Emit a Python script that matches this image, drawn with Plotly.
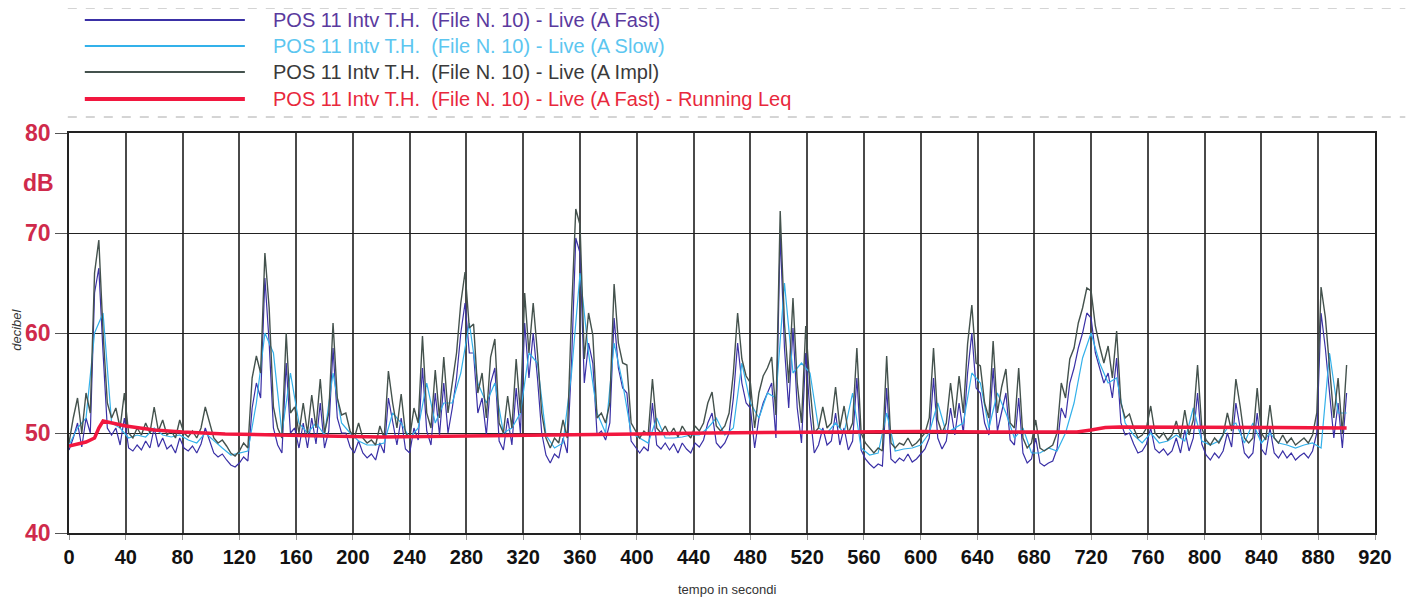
import plotly.graph_objects as go

# ---------------- data ----------------
t_fast = list(range(0, 901, 3))
t_impl = list(range(0, 901, 3))
t_slow = list(range(0, 901, 6))

impl_db = [
    49.0, 51.5, 53.5, 50.0, 54.0, 52.0, 66.0, 69.3, 60.0, 53.0,
    51.5, 52.5, 50.5, 54.0, 50.0, 49.5, 50.5, 49.8, 51.0, 50.0,
    52.6, 50.2, 51.3, 49.8, 50.2, 49.5, 51.3, 50.0, 49.6, 50.2,
    49.5, 50.5, 52.6, 51.0, 49.5, 49.0, 49.3, 48.7, 48.0, 47.7,
    48.2, 49.0, 48.5, 55.5, 57.7, 56.0, 68.0, 62.5, 52.6, 50.5,
    49.5, 60.0, 52.0, 52.6, 50.0, 53.0, 50.0, 53.8, 50.5, 55.4,
    50.0, 52.0, 61.0, 53.5, 51.8, 52.0, 50.2, 49.5, 51.0, 49.5,
    49.0, 49.3, 48.8, 50.7, 49.5, 56.2, 53.0, 50.5, 53.9, 50.0,
    49.5, 52.5, 51.0, 59.7, 52.0, 50.5, 56.3, 51.5, 57.6, 52.0,
    55.0, 58.0, 63.0, 66.1, 60.5, 60.9, 54.0, 56.0, 51.5, 57.6,
    59.4, 51.0, 50.0, 53.7, 50.5, 57.4, 52.0, 64.0, 58.0, 63.0,
    58.0, 52.0, 49.5, 48.5, 49.5, 49.0, 51.3, 49.5, 62.0, 72.4,
    70.8, 57.4, 62.0, 59.8, 51.5, 52.0, 51.0, 53.0, 64.9, 59.0,
    57.0, 56.8, 51.0, 50.2, 49.5, 50.2, 49.8, 55.4, 50.5, 50.0,
    50.7, 49.8, 50.5, 49.6, 50.7, 50.0, 49.5, 50.7, 50.2, 51.0,
    53.0, 54.1, 50.7, 50.2, 50.7, 52.0, 56.0, 62.0, 57.4, 55.7,
    55.0, 50.5, 54.0, 55.7, 56.5, 57.6, 51.8, 72.2, 61.0, 55.0,
    63.5, 55.0, 51.0, 60.7, 54.6, 50.0, 50.5, 52.6, 50.5, 51.0,
    54.6, 50.5, 52.7, 50.0, 51.0, 58.5, 50.0, 49.0, 48.5, 48.0,
    48.5, 48.2, 57.7, 49.0, 48.5, 49.0, 48.8, 49.5, 48.7, 49.0,
    49.5, 50.0, 51.5, 58.5, 51.3, 50.0, 51.0, 55.0, 51.5, 55.7,
    52.0, 58.9, 62.8, 57.0, 56.7, 53.0, 51.5, 59.2, 52.0, 54.6,
    56.4, 51.0, 50.5, 56.5, 49.5, 48.5, 49.0, 51.3, 48.5, 48.2,
    48.5, 48.8, 50.0, 55.0, 53.5, 57.4, 58.5, 61.0, 62.5, 64.5,
    64.2, 60.7, 58.7, 57.0, 58.7, 55.5, 60.2, 53.0, 51.5, 51.9,
    50.5, 49.5, 49.8, 50.5, 52.7, 50.0, 49.5, 50.0, 49.3, 49.8,
    51.2, 49.5, 52.3, 49.8, 51.3, 56.8, 50.5, 49.3, 48.8, 49.5,
    49.0, 49.8, 52.0, 50.2, 55.4, 52.7, 49.5, 49.0, 49.5, 54.5,
    50.0, 49.3, 52.8, 49.5, 49.0, 49.8, 49.0, 49.5, 48.8, 49.2,
    49.5, 49.0, 49.8, 52.0, 64.6, 61.6, 56.3, 51.5, 55.5, 50.0,
    56.8,
]

fast_db = [
    48.3, 49.5, 51.0, 48.6, 51.5, 50.0, 64.0, 66.5, 58.0, 50.5,
    49.8, 50.5, 48.8, 51.5, 48.5, 48.2, 48.8, 48.3, 49.2, 48.5,
    50.5, 48.6, 49.5, 48.4, 48.8, 48.0, 49.5, 48.5, 48.2, 48.7,
    48.0, 48.9, 50.5, 49.3, 48.0, 47.6, 47.9, 47.3, 46.8, 46.6,
    47.0, 47.6, 47.2, 52.5, 55.0, 53.5, 65.5, 59.0, 50.5, 48.8,
    48.0, 57.0, 50.0, 50.5, 48.5, 51.0, 48.5, 51.5, 48.9, 53.0,
    48.5, 50.2, 58.5, 51.5, 50.0, 50.0, 48.6, 48.0, 49.2, 48.0,
    47.5, 47.9, 47.3, 49.0, 48.0, 53.5, 51.0, 48.8, 51.5, 48.4,
    48.0, 50.5, 49.3, 56.5, 50.2, 48.8, 54.0, 49.8, 55.0, 50.0,
    52.5, 55.5, 60.0, 63.0, 58.0, 58.0, 52.0, 53.5, 49.8, 55.0,
    56.5, 49.2, 48.3, 51.5, 48.8, 54.5, 50.0, 61.0, 55.5, 60.0,
    55.5, 50.0, 47.8, 47.0, 47.9, 47.5, 49.5, 48.0, 57.0, 69.5,
    68.0, 55.0, 59.0, 57.0, 49.8, 50.2, 49.3, 51.0, 61.5, 56.5,
    54.5, 54.0, 49.2, 48.6, 48.0, 48.6, 48.2, 53.0, 48.8, 48.4,
    49.0, 48.3, 48.9, 48.0, 49.0, 48.4, 48.0, 49.0, 48.6, 49.3,
    51.0, 52.0, 49.0, 48.5, 49.0, 50.0, 53.5, 59.0, 55.0, 53.0,
    52.5, 48.5, 51.5, 53.0, 54.0, 55.0, 49.5, 70.0, 58.5, 52.5,
    60.5, 52.5, 49.0, 58.0, 52.0, 48.0, 48.8, 50.5, 48.8, 49.2,
    52.0, 48.8, 50.5, 48.3, 49.2, 55.5, 48.3, 47.4, 46.9, 46.5,
    46.9, 46.7, 54.5, 47.4, 47.0, 47.5, 47.2, 47.9, 47.1, 47.4,
    47.9, 48.4, 49.5, 55.5, 49.5, 48.4, 49.2, 52.5, 49.8, 53.0,
    50.0, 56.0, 60.0, 54.5, 54.0, 51.0, 49.8, 56.5, 50.2, 52.0,
    54.0, 49.3, 48.8, 53.5, 48.0, 47.0, 47.4, 49.5, 47.0, 46.7,
    47.0, 47.2, 48.4, 52.5, 51.5, 55.0, 56.5, 58.5, 60.0, 62.0,
    61.5, 58.0, 56.5, 55.0, 56.0, 53.5, 57.5, 51.0, 49.8, 50.0,
    48.9, 48.0, 48.2, 48.9, 50.5, 48.4, 48.0, 48.4, 47.8, 48.2,
    49.5, 48.0, 50.3, 48.2, 49.5, 54.0, 48.9, 47.8, 47.3, 48.0,
    47.5, 48.2, 50.0, 48.6, 53.0, 50.5, 48.0, 47.5, 48.0, 52.0,
    48.4, 47.8, 50.5, 48.0, 47.5, 48.2, 47.5, 48.0, 47.3, 47.7,
    48.0, 47.5, 48.2, 50.0, 62.0, 58.5, 54.0, 49.5, 53.0, 48.5,
    54.0,
]

slow_db = [
    48.8, 50.5, 51.5, 60.0, 62.0, 51.0, 50.5, 49.5, 49.8, 49.6,
    50.5, 49.8, 49.6, 49.8, 49.3, 49.0, 50.0, 49.2, 48.5, 47.8,
    48.0, 48.2, 53.0, 60.0, 58.0, 50.0, 56.0, 51.0, 50.0, 51.0,
    49.8, 56.0, 51.0, 50.0, 49.2, 48.8, 48.8, 49.0, 52.0, 51.0,
    49.5, 50.5, 55.0, 51.0, 53.0, 53.0, 56.0, 61.0, 55.0, 53.0,
    55.0, 50.0, 50.5, 52.0, 58.0, 57.0, 49.8, 48.5, 49.0, 56.0,
    66.0, 58.0, 52.0, 50.0, 59.0, 55.0, 50.0, 49.5, 49.0, 51.5,
    49.5, 49.5, 49.6, 49.8, 49.8, 50.5, 51.5, 49.8, 50.5, 57.0,
    53.0, 51.5, 54.0, 53.5, 65.0, 56.0, 57.0, 56.0, 50.5, 50.0,
    51.0, 50.0, 54.0, 48.5, 47.8, 48.0, 52.0, 48.2, 48.4, 48.5,
    48.8, 50.0, 53.0, 50.0, 50.5, 51.0, 56.0, 55.0, 50.5, 54.0,
    52.0, 49.5, 50.5, 48.0, 48.0, 48.5, 48.2, 50.0, 53.0, 57.5,
    60.0, 57.0, 55.0, 55.5, 51.0, 49.8, 49.0, 50.0, 49.0, 49.2,
    49.8, 49.2, 52.5, 49.2, 48.8, 49.2, 50.5, 51.0, 49.0, 51.0,
    49.0, 50.0, 49.0, 48.8, 48.5, 48.8, 49.0, 48.5, 58.0, 52.0,
    52.0,
]

t_leq = [0, 6, 12, 18, 21, 24, 30, 40, 60, 80, 110, 140, 180, 220, 260, 300,
         350, 400, 450, 500, 550, 600, 650, 700, 710, 720, 730, 740, 800, 850, 900]
leq_db = [48.7, 48.9, 49.1, 49.5, 50.5, 51.2, 51.0, 50.7, 50.3, 50.1, 49.9, 49.85,
          49.7, 49.6, 49.65, 49.75, 49.8, 49.9, 50.0, 50.05, 50.1, 50.15, 50.1,
          50.05, 50.1, 50.3, 50.55, 50.6, 50.6, 50.55, 50.5]

x_ticks = list(range(0, 921, 40))
y_ticks = [40, 50, 60, 70, 80]

names = [
    "POS 11 Intv T.H.\u00a0 (File N. 10) - Live (A Fast)",
    "POS 11 Intv T.H.\u00a0 (File N. 10) - Live (A Slow)",
    "POS 11 Intv T.H.\u00a0 (File N. 10) - Live (A Impl)",
    "POS 11 Intv T.H.\u00a0 (File N. 10) - Live (A Fast) - Running Leq",
]

# ---------------- styles ----------------
C_FAST = "#3a30a6"
C_SLOW = "#33b1ea"
C_IMPL = "#44524d"
C_LEQ = "#f2173f"
TXT_COL = ["#5a3a9e", "#5cc6f0", "#3a3a3a", "#e8283c"]
LINE_COL = [C_FAST, C_SLOW, C_IMPL, C_LEQ]
LINE_W = [1.8, 1.8, 1.8, 4]
RED_TICK = "#cf2a4b"

# page has an 8 px body margin: work in page pixels, offset into figure pixels
OFF = 8
W, H = 1414 - OFF, 599 - OFF
PX_L, PX_R, PX_T, PX_B = 69.2, 1374.7, 133, 533   # plot area in page pixels
L, T = PX_L - OFF, PX_T - OFF
R = W - (PX_R - OFF)
B = H - (PX_B - OFF)


def xp(px):
    return (px - PX_L) / (PX_R - PX_L)


def yp(py):
    return (PX_B - py) / (PX_B - PX_T)


fig = go.Figure()
fig.add_trace(go.Scatter(x=t_fast, y=fast_db, mode="lines", name=names[0],
                         line=dict(color=C_FAST, width=1.2), showlegend=False))
fig.add_trace(go.Scatter(x=t_slow, y=slow_db, mode="lines", name=names[1],
                         line=dict(color=C_SLOW, width=1.2), showlegend=False))
fig.add_trace(go.Scatter(x=t_impl, y=impl_db, mode="lines", name=names[2],
                         line=dict(color=C_IMPL, width=1.4), showlegend=False))
fig.add_trace(go.Scatter(x=t_leq, y=leq_db, mode="lines", name=names[3],
                         line=dict(color=C_LEQ, width=3.5), showlegend=False))

shapes = []
annotations = []
rows = [20, 46, 72, 99]
for i, (nm, ry) in enumerate(zip(names, rows)):
    shapes.append(dict(type="line", xref="paper", yref="paper",
                       x0=xp(85), x1=xp(245), y0=yp(ry), y1=yp(ry),
                       line=dict(color=LINE_COL[i], width=LINE_W[i])))
    annotations.append(dict(xref="paper", yref="paper", x=xp(271), y=yp(ry),
                            xanchor="left", yanchor="middle", showarrow=False,
                            text=nm, font=dict(size=20, color=TXT_COL[i],
                                               family="Liberation Sans, Arial")))
# legend frame dashed lines
for ry in (8, 117):
    shapes.append(dict(type="line", xref="paper", yref="paper",
                       x0=xp(68), x1=xp(1405), y0=yp(ry), y1=yp(ry),
                       line=dict(color="#aaaaaa", width=1, dash="dash")))

annotations.append(dict(xref="paper", yref="y", x=xp(56), y=75, xanchor="right",
                        yanchor="middle", showarrow=False, text="<b>dB</b>",
                        font=dict(size=23, color=RED_TICK, family="Liberation Sans, Arial")))
annotations.append(dict(xref="paper", yref="paper", x=xp(16), y=yp(330), xanchor="center",
                        yanchor="middle", showarrow=False, text="<i>decibel</i>", textangle=-90,
                        font=dict(size=13, color="#333", family="Liberation Sans, Arial")))
annotations.append(dict(xref="paper", yref="paper", x=xp(727), y=yp(589), xanchor="center",
                        yanchor="middle", showarrow=False, text="tempo in secondi",
                        font=dict(size=13, color="#333", family="Liberation Sans, Arial")))

fig.update_layout(
    width=W, height=H,
    margin=dict(l=L, r=R, t=T, b=B, pad=0, autoexpand=False),
    paper_bgcolor="white", plot_bgcolor="white",
    shapes=shapes, annotations=annotations,
    xaxis=dict(range=[0, 920], tickvals=x_ticks, ticktext=["<b>%d</b>" % v for v in x_ticks],
               showgrid=True, gridcolor="#4a4a4a", gridwidth=1.6, automargin=False,
               showline=True, linecolor="#222", linewidth=1.5, mirror=True,
               ticks="outside", ticklen=5, tickcolor="#999",
               tickfont=dict(size=20, color="#111", family="Liberation Sans, Arial"),
               zeroline=False),
    yaxis=dict(range=[40, 80], tickvals=y_ticks, ticktext=["<b>%d</b>" % v for v in y_ticks],
               showgrid=True, gridcolor="#222", gridwidth=1, automargin=False,
               showline=True, linecolor="#222", linewidth=1.5, mirror=True,
               ticks="outside", ticklen=12, tickcolor="#555",
               tickfont=dict(size=23, color=RED_TICK, family="Liberation Sans, Arial"),
               zeroline=False),
)

fig.write_html("out.html")
